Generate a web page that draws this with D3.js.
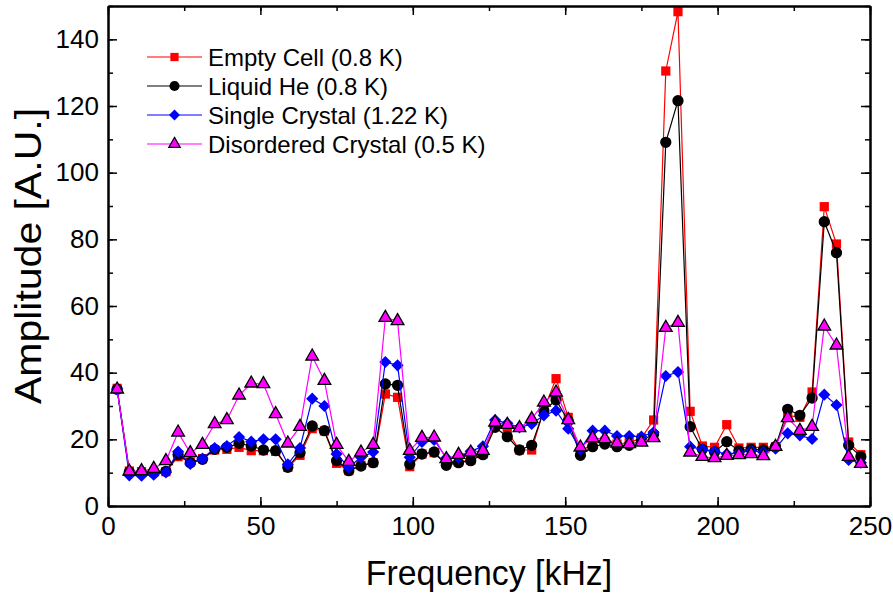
<!DOCTYPE html>
<html>
<head>
<meta charset="utf-8">
<script src="https://cdn.jsdelivr.net/npm/d3@7"></script>
<style>
  body { margin: 0; background: #fff; }
  text { font-family: "Liberation Sans", Arial, sans-serif; fill: #000; }
</style>
</head>
<body>
<div id="chart"></div>
<script>
const freq = [3, 7, 11, 15, 19, 23, 27, 31, 35, 39, 43, 47, 51, 55, 59, 63, 67, 71, 75, 79,
  83, 87, 91, 95, 99, 103, 107, 111, 115, 119, 123, 127, 131, 135, 139, 143, 147, 151, 155, 159,
  163, 167, 171, 175, 179, 183, 187, 191, 195, 199, 203, 207, 211, 215, 219, 223, 227, 231, 235, 239,
  243, 247];

const emptyCell = [35.3, 10.5, 10.3, 10.2, 10.3, 14.8, 13.2, 14.2, 16.8, 17.0, 17.6, 16.6, 16.6, 16.4, 11.6, 15.2, 23.2, 22.5, 12.8, 10.6,
  12.2, 13.0, 33.6, 32.6, 11.8, 15.6, 16.0, 12.6, 13.2, 13.8, 15.6, 24.6, 22.4, 16.8, 16.8, 29.0, 38.2, 26.6, 16.0, 19.0,
  19.4, 18.6, 19.0, 20.4, 25.8, 130.5, 148.3, 28.4, 18.0, 17.6, 24.4, 17.4, 17.6, 17.6, 17.8, 27.2, 26.6, 34.2, 89.8, 78.6,
  19.2, 15.4];

const liquidHe = [35.0, 10.2, 10.0, 10.0, 10.4, 15.4, 13.0, 14.0, 17.0, 17.6, 18.8, 18.0, 16.8, 16.6, 11.6, 16.0, 24.0, 22.6, 13.6, 10.6,
  12.0, 13.0, 36.6, 36.2, 12.5, 15.6, 16.2, 12.2, 13.0, 13.6, 15.4, 23.6, 20.8, 16.8, 18.2, 28.6, 31.8, 25.5, 15.2, 17.8,
  18.6, 17.8, 18.2, 19.6, 21.5, 109.1, 121.6, 23.8, 17.0, 16.2, 19.3, 16.6, 17.0, 16.8, 17.8, 29.0, 27.2, 32.4, 85.3, 76.0,
  18.2, 14.8];

const singleCrystal = [35.0, 9.2, 9.1, 9.4, 10.1, 16.3, 12.6, 14.2, 17.4, 18.0, 20.7, 19.3, 20.0, 20.0, 12.5, 17.4, 32.2, 30.0, 15.6, 11.6,
  14.6, 16.2, 43.2, 42.2, 14.6, 19.2, 19.8, 14.4, 14.6, 16.4, 17.9, 25.8, 24.8, 23.6, 24.6, 27.2, 28.6, 23.2, 17.0, 22.6,
  22.6, 21.0, 21.0, 20.8, 22.1, 39.0, 40.2, 17.8, 17.0, 16.4, 15.6, 16.0, 16.6, 16.2, 17.2, 21.8, 21.2, 20.1, 33.4, 30.3,
  13.8, 13.0];

const disordered = [35.0, 10.4, 10.5, 11.2, 13.5, 22.1, 15.9, 18.4, 24.6, 25.8, 33.2, 36.8, 36.6, 27.6, 18.8, 23.8, 44.9, 37.6, 18.4, 13.3,
  16.1, 18.4, 56.5, 55.5, 16.6, 20.5, 20.6, 14.1, 15.4, 16.1, 16.6, 25.1, 24.4, 23.4, 26.1, 31.1, 34.1, 25.8, 17.6, 20.4,
  20.1, 18.8, 18.6, 19.1, 20.4, 53.5, 55.0, 16.1, 14.8, 14.4, 15.1, 15.3, 15.6, 15.0, 17.8, 26.4, 22.6, 23.8, 53.9, 48.2,
  14.8, 12.7];

const seriesNames = ["Empty Cell (0.8 K)", "Liquid He (0.8 K)", "Single Crystal (1.22 K)", "Disordered Crystal (0.5 K)"];
const xTicks = [0, 50, 100, 150, 200, 250];
const yTicks = [0, 20, 40, 60, 80, 100, 120, 140];

const width = 893;
const height = 594;
const margin = { top: 6, right: 23, bottom: 88, left: 108 };

const series = [
  { name: seriesNames[0], values: emptyCell, line: "#ff0000", fill: "#ff0000", stroke: "none", symbol: d3.symbolSquare, size: 85 },
  { name: seriesNames[1], values: liquidHe, line: "#000000", fill: "#000000", stroke: "none", symbol: d3.symbolCircle, size: 100 },
  { name: seriesNames[2], values: singleCrystal, line: "#0000ff", fill: "#0000ff", stroke: "none", symbol: d3.symbolDiamond2, size: 95 },
  { name: seriesNames[3], values: disordered, line: "#ff00ff", fill: "#ff00ff", stroke: "#000", symbol: d3.symbolTriangle, size: 70 }
];

const svg = d3.select("#chart")
  .append("svg")
  .attr("width", width)
  .attr("height", height);

const x = d3.scaleLinear()
  .domain([0, 250])
  .range([margin.left, width - margin.right]);

const y = d3.scaleLinear()
  .domain([0, 150])
  .range([height - margin.bottom, margin.top]);

// series lines + markers
const line = d3.line()
  .x((d, i) => x(freq[i]))
  .y(d => y(d));

series.forEach(s => {
  const g = svg.append("g");
  g.append("path")
    .datum(s.values)
    .attr("fill", "none")
    .attr("stroke", s.line)
    .attr("stroke-width", 1.2)
    .attr("d", line);
  g.selectAll("path.pt")
    .data(s.values)
    .join("path")
    .attr("class", "pt")
    .attr("transform", (d, i) => `translate(${x(freq[i])},${y(d)})`)
    .attr("d", d3.symbol().type(s.symbol).size(s.size))
    .attr("fill", s.fill)
    .attr("stroke", s.stroke)
    .attr("stroke-width", 1.3);
});

// axes, ticks inward on all four sides
const xMinor = d3.range(0, 251, 25);
const yMinor = d3.range(0, 151, 10);

const bottomAxis = d3.axisBottom(x).tickValues(xTicks).tickSize(-9).tickPadding(11).tickSizeOuter(0);
const bottomMinor = d3.axisBottom(x).tickValues(xMinor).tickSize(-5).tickFormat("").tickSizeOuter(0);
const leftAxis = d3.axisLeft(y).tickValues(yTicks).tickSize(-9).tickPadding(9).tickSizeOuter(0);
const leftMinor = d3.axisLeft(y).tickValues(yMinor).tickSize(-5).tickFormat("").tickSizeOuter(0);

svg.append("g").attr("class", "axis")
  .attr("transform", `translate(0,${y(0)})`).call(bottomMinor);
svg.append("g").attr("class", "axis")
  .attr("transform", `translate(0,${y(0)})`).call(bottomAxis);
svg.append("g").attr("class", "axis")
  .attr("transform", `translate(0,${y(150)})`).call(d3.axisTop(x).tickValues(xTicks).tickSize(-9).tickFormat("").tickSizeOuter(0));
svg.append("g").attr("class", "axis")
  .attr("transform", `translate(0,${y(150)})`).call(d3.axisTop(x).tickValues(xMinor).tickSize(-5).tickFormat("").tickSizeOuter(0));
svg.append("g").attr("class", "axis")
  .attr("transform", `translate(${x(0)},0)`).call(leftMinor);
svg.append("g").attr("class", "axis")
  .attr("transform", `translate(${x(0)},0)`).call(leftAxis);
svg.append("g").attr("class", "axis")
  .attr("transform", `translate(${x(250)},0)`).call(d3.axisRight(y).tickValues(yTicks).tickSize(-9).tickFormat("").tickSizeOuter(0));
svg.append("g").attr("class", "axis")
  .attr("transform", `translate(${x(250)},0)`).call(d3.axisRight(y).tickValues(yMinor).tickSize(-5).tickFormat("").tickSizeOuter(0));

svg.selectAll(".axis .domain").attr("stroke", "#000").attr("stroke-width", 2);
svg.selectAll(".axis line").attr("stroke", "#000").attr("stroke-width", 1.5);
svg.selectAll(".axis text")
  .attr("font-family", "'Liberation Sans', Arial, sans-serif")
  .attr("font-size", 26)
  .attr("fill", "#000");

// axis titles
svg.append("text")
  .attr("transform", `translate(${(x(0) + x(250)) / 2},585) scale(0.94,1)`)
  .attr("text-anchor", "middle")
  .attr("font-size", 36)
  .text("Frequency [kHz]");

svg.append("text")
  .attr("transform", `translate(41,${(y(0) + y(150)) / 2}) rotate(-90) scale(1,0.9)`)
  .attr("text-anchor", "middle")
  .attr("font-size", 41)
  .text("Amplitude [A.U.]");

// legend
const legend = svg.append("g").attr("transform", "translate(147,57)");
series.forEach((s, i) => {
  const row = legend.append("g").attr("transform", `translate(0,${i * 29})`);
  row.append("line")
    .attr("x1", 0).attr("x2", 55)
    .attr("stroke", s.line).attr("stroke-width", 1.2);
  row.append("path")
    .attr("transform", "translate(27.5,0)")
    .attr("d", d3.symbol().type(s.symbol).size(s.size * 0.8))
    .attr("fill", s.fill)
    .attr("stroke", s.stroke)
    .attr("stroke-width", 1.3);
  row.append("text")
    .attr("x", 61)
    .attr("y", 8.5)
    .attr("font-size", 24)
    .text(s.name);
});
</script>
</body>
</html>
